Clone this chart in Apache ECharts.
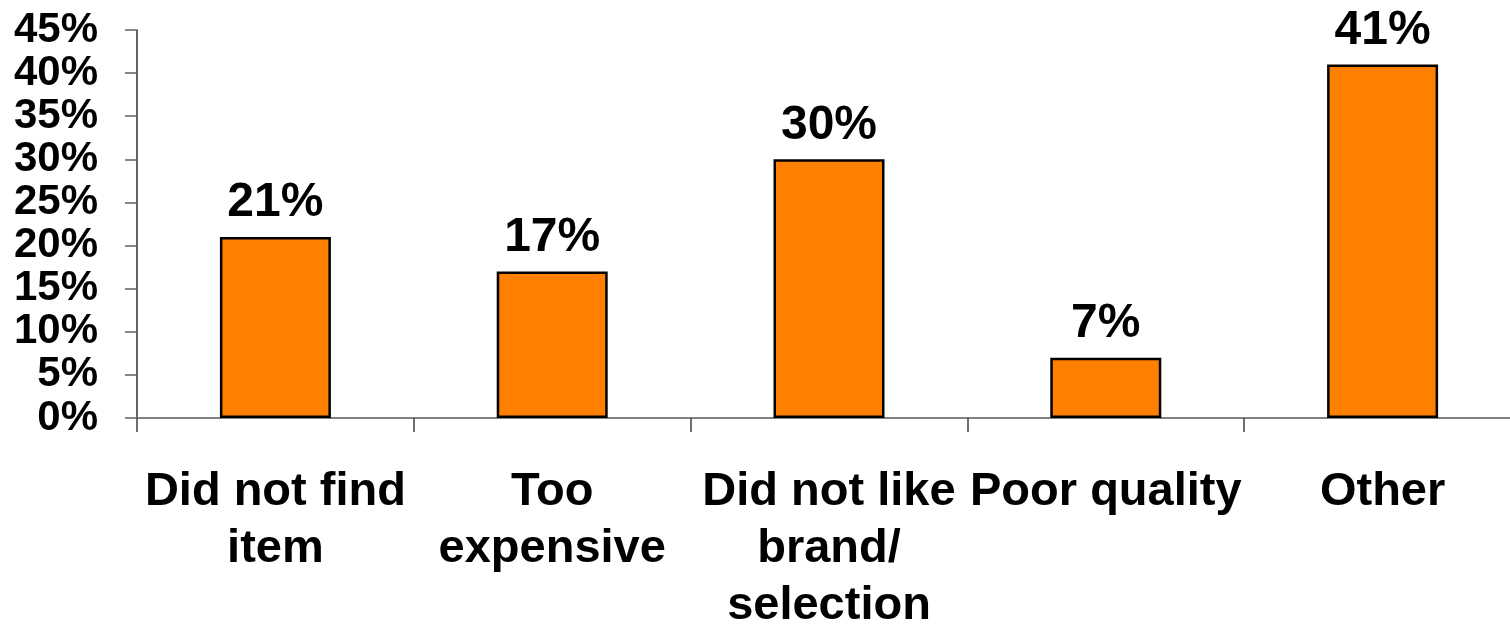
<!DOCTYPE html>
<html>
<head>
<meta charset="utf-8">
<script src="https://cdn.jsdelivr.net/npm/echarts@6/dist/echarts.min.js"></script>
<style>
html,body{margin:0;padding:0;background:#fff;}
#chart{width:1510px;height:624px;}
</style>
</head>
<body>
<div id="chart"></div>
<script>
const categories = ["Did not find\nitem", "Too\nexpensive", "Did not like\nbrand/\nselection", "Poor quality", "Other"];
const values = [21, 17, 30, 7, 41];
const yMin = 0, yMax = 45, yInterval = 5;

const chart = echarts.init(document.getElementById('chart'), null, {renderer: 'canvas'});
const font = '"Liberation Sans", Arial, sans-serif';
chart.setOption({
  animation: false,
  backgroundColor: '#ffffff',
  grid: {left: 137, top: 30, width: 1384, bottom: 206, containLabel: false, outerBoundsMode: 'none'},
  xAxis: {
    type: 'category',
    data: categories,
    boundaryGap: true,
    axisLine: {show: true, lineStyle: {color: '#808080', width: 2}},
    axisTick: {show: true, length: 14, alignWithLabel: false, lineStyle: {color: '#404040', width: 1.5}},
    axisLabel: {interval: 0, margin: 46, color: '#000', fontFamily: font, fontWeight: 'bold', fontSize: 47, lineHeight: 57, align: 'center'}
  },
  yAxis: {
    type: 'value',
    min: yMin, max: yMax, interval: yInterval,
    splitLine: {show: false},
    axisLine: {show: true, lineStyle: {color: '#303030', width: 1.5}},
    axisTick: {show: true, length: 12, lineStyle: {color: '#606060', width: 1.5}},
    axisLabel: {margin: 39, color: '#000', fontFamily: font, fontWeight: 'bold', fontSize: 42, formatter: '{value}%'}
  },
  series: [{
    type: 'bar',
    data: values,
    barWidth: 111,
    itemStyle: {color: '#FF7F00', borderColor: '#000', borderWidth: 2.5},
    label: {show: true, position: 'top', distance: 10, color: '#000', fontFamily: font, fontWeight: 'bold', fontSize: 48, formatter: '{c}%'}
  }]
});
</script>
</body>
</html>
